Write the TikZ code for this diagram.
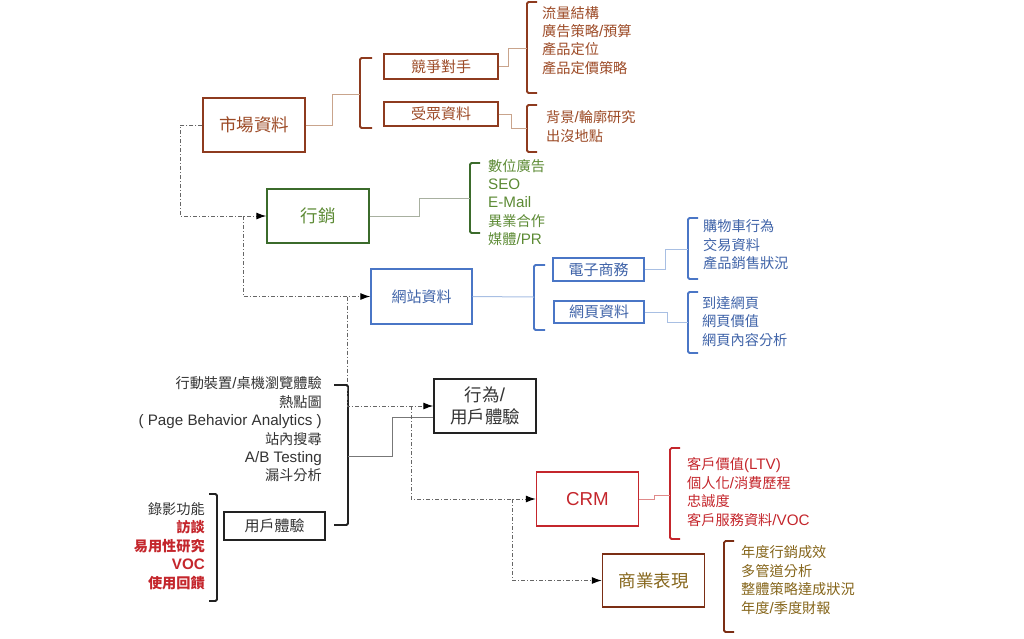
\documentclass[tikz,border=0pt]{standalone}
\usepackage{fontspec}
\setmainfont{Noto Sans CJK TC}
\newfontfamily\lat[Scale=1.07]{Liberation Sans}
\usetikzlibrary{calc,arrows.meta}
\definecolor{brn}{HTML}{8E3B1F}
\definecolor{brntxt}{HTML}{9C4A26}
\definecolor{brnline}{HTML}{C9A48C}
\definecolor{grn}{HTML}{3B6B2B}
\definecolor{grntxt}{HTML}{5C8A34}
\definecolor{grnline}{HTML}{A8B0A0}
\definecolor{blu}{HTML}{4A76C6}
\definecolor{blutxt}{HTML}{3F63A8}
\definecolor{bluline}{HTML}{A8BFE3}
\definecolor{blk}{HTML}{222222}
\definecolor{blktxt}{HTML}{333333}
\definecolor{blkline}{HTML}{777777}
\definecolor{rd}{HTML}{C4262C}
\definecolor{rdline}{HTML}{E08A8A}
\definecolor{gld}{HTML}{7B2E14}
\definecolor{gldtxt}{HTML}{85651A}
\tikzset{
  box/.style={draw,line width=1.4pt,inner sep=0pt,align=center},
  bigbox/.style={box,minimum width=102pt,minimum height=54pt,font=\fontsize{17.5}{22}\selectfont},
  smallbox/.style={box,font=\fontsize{15}{18}\selectfont},
  items/.style={anchor=west,align=left,inner sep=0pt,font=\fontsize{14.2}{18.4}\selectfont},
  brk/.style={line width=1.8pt,rounded corners=1.5pt},
  link/.style={line width=1pt},
  flow/.style={-{Latex[length=10pt,width=7pt,black]},draw=black!60,dash pattern=on 4pt off 2pt on 1pt off 2pt,line width=1pt}
}
\begin{document}
\begin{tikzpicture}[x=1pt,y=-1pt]
  \useasboundingbox (0,0) rectangle (1024,638);
  \node[bigbox,draw=brn,text=brntxt] (mkt) at (254,125) {市場資料};
  \node[smallbox,draw=brn,text=brntxt,minimum width=114pt,minimum height=25pt] (comp) at (441,66.5) {競爭對手};
  \node[smallbox,draw=brn,text=brntxt,minimum width=114pt,minimum height=24pt] (aud) at (441,114) {受眾資料};
  \node[items,text=brntxt] (compitems) at (542,40.3) {流量結構\\廣告策略{\lat/}預算\\產品定位\\產品定價策略};
  \node[items,text=brntxt] (auditems) at (546,126.5) {背景{\lat/}輪廓研究\\出沒地點};
  \node[bigbox,draw=grn,text=grntxt] (mktg) at (318,216) {行銷};
  \node[items,text=grntxt] (mktgitems) at (488,202.5) {數位廣告\\\lat SEO\\\lat E-Mail\\異業合作\\媒體{\lat/PR}};
  \node[smallbox,draw=blu,text=blutxt,minimum width=101pt,minimum height=55pt] (web) at (421.5,296.5) {網站資料};
  \node[smallbox,draw=blu,text=blutxt,minimum width=91pt,minimum height=23pt] (ec) at (598.5,269.5) {電子商務};
  \node[smallbox,draw=blu,text=blutxt,minimum width=90pt,minimum height=22pt] (page) at (599,312) {網頁資料};
  \node[items,text=blutxt] (ecitems) at (703,245) {購物車行為\\交易資料\\產品銷售狀況};
  \node[items,text=blutxt] (pageitems) at (702,321.5) {到達網頁\\網頁價值\\網頁內容分析};
  \node[bigbox,draw=blk,text=blktxt] (behav) at (485,406) {行為{\lat/}\\用戶體驗};
  \node[items,anchor=east,align=right,text=blktxt] (behavitems) at (322,429.5) {行動裝置{\lat/}桌機瀏覽體驗\\熱點圖\\\lat ( Page Behavior Analytics )\\站內搜尋\\\lat A/B Testing\\漏斗分析};
  \node[smallbox,draw=blk,text=blktxt,minimum width=101pt,minimum height=28pt] (ux) at (274.5,526) {用戶體驗};
  \node[items,anchor=east,align=right,text=rd] (uxitems) at (205,546) {\textcolor{blktxt}{錄影功能}\\\bfseries 訪談\\\bfseries 易用性研究\\\bfseries\lat VOC\\\bfseries 使用回饋};
  \node[bigbox,draw=rd,text=rd] (crm) at (587.5,499) {\lat CRM};
  \node[items,text=rd] (crmitems) at (687,492) {客戶價值{\lat(LTV)}\\個人化{\lat/}消費歷程\\忠誠度\\客戶服務資料{\lat/VOC}};
  \node[bigbox,draw=gld,text=gldtxt,minimum height=53pt] (biz) at (653.5,580.5) {商業表現};
  \node[items,text=gldtxt] (bizitems) at (741,580) {年度行銷成效\\多管道分析\\整體策略達成狀況\\年度{\lat/}季度財報};

  \draw[brk,brn] (372,58) -- (360,58) -- (360,128) -- (372,128);
  \draw[brk,brn] (537,2) -- (527,2) -- (527,93) -- (537,93);
  \draw[brk,brn] (537,105) -- (527,105) -- (527,152) -- (537,152);
  \draw[brk,grn] (480,163) -- (470,163) -- (470,233) -- (480,233);
  \draw[brk,blu] (545,265) -- (534,265) -- (534,330) -- (545,330);
  \draw[brk,blu] (698,218) -- (688,218) -- (688,279) -- (698,279);
  \draw[brk,blu] (698,292) -- (688,292) -- (688,353) -- (698,353);
  \draw[brk,blk] (334,385) -- (348,385) -- (348,525) -- (334,525);
  \draw[brk,blk] (209,494) -- (217,494) -- (217,601) -- (209,601);
  \draw[brk,rd] (680,448) -- (670,448) -- (670,539) -- (680,539);
  \draw[brk,gld] (734,541) -- (724,541) -- (724,632) -- (734,632);

  \coordinate (b1) at (360,94);
  \coordinate (b2) at (527,48);
  \coordinate (b3) at (527,128);
  \coordinate (b4) at (470,198);
  \coordinate (b5) at (534,297);
  \coordinate (b6) at (688,249);
  \coordinate (b7) at (688,322);
  \coordinate (b8) at (348,456);
  \coordinate (b10) at (670,495);
  \draw[link,brnline] (mkt.east) -- ++(27,0) |- (b1);
  \draw[link,brnline] (comp.east) -- ++(10,0) |- (b2);
  \draw[link,brnline] (aud.east) -- ++(13,0) |- (b3);
  \draw[link,grnline] (mktg.east) -- ++(50,0) |- (b4);
  \draw[link,bluline] (web.east) -- (b5);
  \draw[link,bluline] (ec.east) -- ++(21,0) |- (b6);
  \draw[link,bluline] (page.east) -- ++(23,0) |- (b7);
  \draw[link,blkline] (b8) -- ++(44,0) |- ($(behav.west)+(0,11)$);
  \draw[link,rdline] (crm.east) -- ++(15,0) |- (b10);

  \draw[flow] (mkt.west) -- ++(-22,0) |- (mktg.west);
  \coordinate (j1) at ($(mktg.west)+(-23,0)$);
  \draw[flow] (j1) |- (web.west);
  \coordinate (j2) at ($(web.west)+(-23,0)$);
  \draw[flow] (j2) |- (behav.west);
  \coordinate (j3) at ($(behav.west)+(-22,0)$);
  \draw[flow] (j3) |- (crm.west);
  \coordinate (j4) at ($(crm.west)+(-23,0)$);
  \draw[flow] (j4) |- (biz.west);
\end{tikzpicture}
\end{document}
